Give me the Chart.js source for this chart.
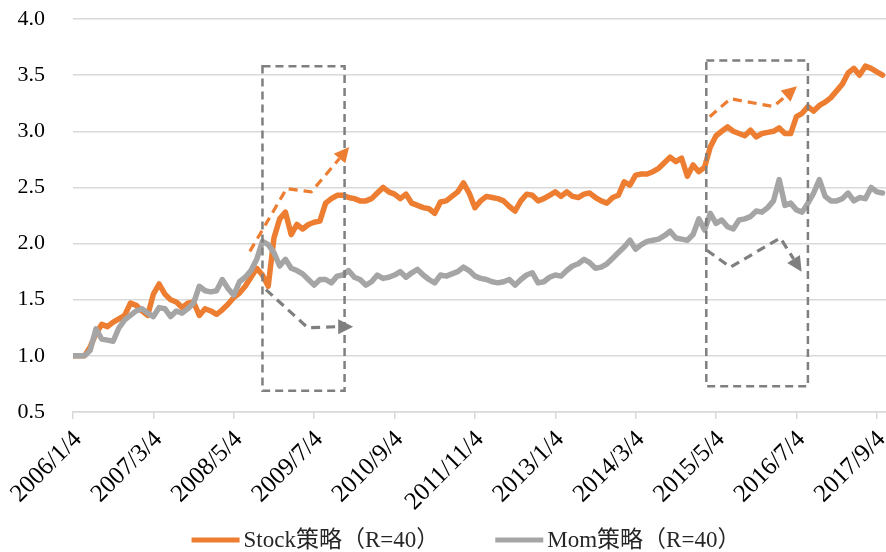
<!DOCTYPE html>
<html>
<head>
<meta charset="utf-8">
<script src="https://cdn.jsdelivr.net/npm/chart.js@4.4.0/dist/chart.umd.min.js"></script>
<style>
    html, body { margin: 0; padding: 0; background: #fff; }
    #wrap { width: 886px; height: 552px; }
</style>
</head>
<body>
<div id="wrap"><canvas id="navChart" width="886" height="552"></canvas></div>
<script>
// tick labels every 14 months, starting 2006/1/4
const tickLabels = ['2006/1/4', '2007/3/4', '2008/5/4', '2009/7/4', '2010/9/4', '2011/11/4',
    '2013/1/4', '2014/3/4', '2015/5/4', '2016/7/4', '2017/9/4'];
const tickStep = 14;
const lastMonth = 141.6;

const seriesNames = ['Stock策略（R=40）', 'Mom策略（R=40）'];

// month-by-month values
const stockValues = [
    1.00, 1.00, 1.00, 1.08, 1.20, 1.28, 1.26, 1.30, 1.33, 1.36, 1.47, 1.45, 1.40, 1.36,
    1.55, 1.64, 1.55, 1.50, 1.48, 1.43, 1.47, 1.48, 1.36, 1.42, 1.40, 1.37, 1.41, 1.46,
    1.52, 1.56, 1.62, 1.70, 1.78, 1.72, 1.62, 2.05, 2.22, 2.28, 2.08, 2.17, 2.13, 2.17,
    2.19, 2.20, 2.36, 2.40, 2.43, 2.43, 2.41, 2.40, 2.38, 2.38, 2.40, 2.45, 2.50, 2.46,
    2.44, 2.40, 2.44, 2.36, 2.34, 2.32, 2.31, 2.27, 2.37, 2.38, 2.42, 2.46, 2.54, 2.45,
    2.32, 2.38, 2.42, 2.41, 2.40, 2.38, 2.33, 2.29, 2.38, 2.44, 2.43, 2.38, 2.40, 2.43,
    2.46, 2.42, 2.46, 2.42, 2.41, 2.44, 2.45, 2.41, 2.38, 2.36, 2.41, 2.43, 2.55, 2.52,
    2.61, 2.62, 2.62, 2.64, 2.67, 2.72, 2.77, 2.73, 2.76, 2.60, 2.70, 2.64, 2.68, 2.86,
    2.96, 3.00, 3.04, 3.00, 2.98, 2.96, 3.01, 2.95, 2.98, 2.99, 3.00, 3.03, 2.98, 2.98,
    3.13, 3.16, 3.22, 3.18, 3.23, 3.26, 3.30, 3.36, 3.42, 3.52, 3.56, 3.50, 3.58, 3.56,
    3.53, 3.50
];
const momValues = [
    1.00, 1.00, 1.00, 1.05, 1.24, 1.15, 1.14, 1.13, 1.25, 1.32, 1.36, 1.40, 1.42, 1.38,
    1.35, 1.43, 1.42, 1.35, 1.40, 1.38, 1.42, 1.47, 1.62, 1.58, 1.57, 1.58, 1.68, 1.60,
    1.54, 1.66, 1.70, 1.76, 1.86, 2.02, 1.99, 1.92, 1.80, 1.86, 1.78, 1.76, 1.73, 1.68,
    1.63, 1.68, 1.68, 1.65, 1.71, 1.72, 1.76, 1.70, 1.68, 1.63, 1.66, 1.72, 1.69, 1.70,
    1.72, 1.75, 1.70, 1.74, 1.77, 1.72, 1.68, 1.65, 1.72, 1.71, 1.73, 1.75, 1.79, 1.76,
    1.71, 1.69, 1.68, 1.66, 1.65, 1.66, 1.68, 1.63, 1.68, 1.72, 1.74, 1.65, 1.66, 1.70,
    1.72, 1.71, 1.76, 1.80, 1.82, 1.86, 1.83, 1.78, 1.79, 1.82, 1.87, 1.92, 1.97, 2.03,
    1.95, 1.99, 2.02, 2.03, 2.04, 2.07, 2.11, 2.05, 2.04, 2.03, 2.08, 2.22, 2.12, 2.27,
    2.18, 2.21, 2.15, 2.13, 2.21, 2.22, 2.24, 2.29, 2.28, 2.32, 2.38, 2.57, 2.34, 2.36,
    2.30, 2.28, 2.36, 2.45, 2.57, 2.42, 2.38, 2.38, 2.40, 2.45, 2.38, 2.41, 2.40, 2.50,
    2.46, 2.45
];

// annotation shapes in data units: [month, value]
const boxes = [
    [[33.0, 3.58], [47.3, 0.69]],
    [[110.3, 3.63], [128.0, 0.73]]
];
const arrows = [
    { color: '#ED7D31', path: [[30.8, 1.93], [37.2, 2.49], [41.5, 2.46], [48.1, 2.86]] },
    { color: '#7F7F7F', path: [[33.6, 1.59], [40.9, 1.25], [46.0, 1.26], [48.8, 1.26]] },
    { color: '#ED7D31', path: [[110.9, 3.13], [114.5, 3.29], [122.0, 3.22], [126.1, 3.40]] },
    { color: '#7F7F7F', path: [[110.4, 1.94], [114.5, 1.79], [123.2, 2.05], [126.9, 1.75]] }
];

const SERIF = '"Liberation Serif", "Times New Roman", serif';
const CJK_SERIF = '"Liberation Serif", "Noto Sans CJK SC", serif';

document.addEventListener('DOMContentLoaded', () => {
    const toPoints = (vals) => vals.map((v, i) => ({ x: i, y: v }));

    const annotationPlugin = {
        id: 'annotations',
        afterDatasetsDraw(chart) {
            const { ctx, scales: { x, y } } = chart;
            ctx.save();

            ctx.strokeStyle = '#7F7F7F';
            ctx.lineWidth = 2.5;
            ctx.setLineDash([8, 5]);
            boxes.forEach(([a, b]) => {
                const x1 = x.getPixelForValue(a[0]), y1 = y.getPixelForValue(a[1]);
                const x2 = x.getPixelForValue(b[0]), y2 = y.getPixelForValue(b[1]);
                ctx.strokeRect(x1, y1, x2 - x1, y2 - y1);
            });

            arrows.forEach(arrow => {
                const pts = arrow.path.map(p => [x.getPixelForValue(p[0]), y.getPixelForValue(p[1])]);
                const tip = pts[pts.length - 1];
                const prev = pts[pts.length - 2];
                const ang = Math.atan2(tip[1] - prev[1], tip[0] - prev[0]);
                const headLen = 15, headHalf = 7.5;
                const baseX = tip[0] - Math.cos(ang) * headLen;
                const baseY = tip[1] - Math.sin(ang) * headLen;

                ctx.strokeStyle = arrow.color;
                ctx.lineWidth = 3.2;
                ctx.setLineDash([9, 6]);
                ctx.beginPath();
                ctx.moveTo(pts[0][0], pts[0][1]);
                for (let i = 1; i < pts.length - 1; i++) ctx.lineTo(pts[i][0], pts[i][1]);
                ctx.lineTo(baseX, baseY);
                ctx.stroke();

                ctx.setLineDash([]);
                ctx.fillStyle = arrow.color;
                ctx.beginPath();
                ctx.moveTo(tip[0], tip[1]);
                ctx.lineTo(baseX + Math.sin(ang) * headHalf, baseY - Math.cos(ang) * headHalf);
                ctx.lineTo(baseX - Math.sin(ang) * headHalf, baseY + Math.cos(ang) * headHalf);
                ctx.closePath();
                ctx.fill();
            });
            ctx.restore();
        }
    };

    // bottom legend drawn by hand so the swatch/text spacing matches
    const legendPlugin = {
        id: 'bottomLegend',
        afterDraw(chart) {
            const { ctx } = chart;
            const swatch = 48, gap = 4, itemGap = 56, yMid = 540, center = 466;
            ctx.save();
            ctx.font = `23px ${CJK_SERIF}`;
            ctx.textBaseline = 'middle';
            const items = chart.data.datasets.map(ds => ({
                text: ds.label, color: ds.borderColor, w: ctx.measureText(ds.label).width
            }));
            const total = items.reduce((s, it) => s + swatch + gap + it.w, 0) + itemGap * (items.length - 1);
            let xPos = center - total / 2;
            items.forEach(it => {
                ctx.fillStyle = it.color;
                ctx.fillRect(xPos, yMid - 2.5, swatch, 5);
                xPos += swatch + gap;
                ctx.fillStyle = '#262626';
                ctx.fillText(it.text, xPos, yMid + 1);
                xPos += it.w + itemGap;
            });
            ctx.restore();
        }
    };

    const lineStyle = {
        borderWidth: 5.5,
        pointRadius: 0,
        tension: 0,
        borderJoinStyle: 'round',
        borderCapStyle: 'round'
    };

    const ctx = document.getElementById('navChart').getContext('2d');
    new Chart(ctx, {
        type: 'line',
        data: {
            datasets: [{
                ...lineStyle,
                label: seriesNames[0],
                data: toPoints(stockValues),
                borderColor: '#ED7D31',
                order: 2
            }, {
                ...lineStyle,
                label: seriesNames[1],
                data: toPoints(momValues),
                borderColor: '#A5A5A5',
                order: 1
            }]
        },
        options: {
            responsive: false,
            animation: false,
            layout: { padding: { top: 19, right: 0, left: 0, bottom: 40 } },
            plugins: {
                tooltip: { enabled: false },
                legend: { display: false }
            },
            scales: {
                x: {
                    type: 'linear',
                    min: 0,
                    max: lastMonth,
                    afterBuildTicks: (scale) => {
                        scale.ticks = tickLabels.map((_, i) => ({ value: i * tickStep }));
                    },
                    afterFit: (scale) => {
                        scale.height = 100;
                        scale.paddingLeft = 0;
                        scale.paddingRight = 0;
                    },
                    grid: {
                        drawOnChartArea: false,
                        drawTicks: true,
                        tickLength: 7,
                        color: '#D9D9D9',
                        lineWidth: 1.5
                    },
                    border: { display: true, color: '#D9D9D9', width: 1.5 },
                    ticks: {
                        autoSkip: false,
                        maxRotation: 45,
                        minRotation: 45,
                        padding: 6,
                        labelOffset: 5,
                        color: '#000',
                        font: { family: SERIF, size: 25 },
                        callback: (v) => tickLabels[Math.round(v / tickStep)]
                    }
                },
                y: {
                    min: 0.5,
                    max: 4.0,
                    afterFit: (scale) => {
                        scale.width = 73;
                        scale.paddingTop = 0;
                        scale.paddingBottom = 0;
                    },
                    grid: { color: '#D9D9D9', lineWidth: 1.5, drawTicks: false },
                    border: { display: false },
                    ticks: {
                        stepSize: 0.5,
                        padding: 28,
                        color: '#000',
                        font: { family: SERIF, size: 22 },
                        callback: (v) => v.toFixed(1)
                    }
                }
            }
        },
        plugins: [annotationPlugin, legendPlugin]
    });
});
</script>
</body>
</html>
